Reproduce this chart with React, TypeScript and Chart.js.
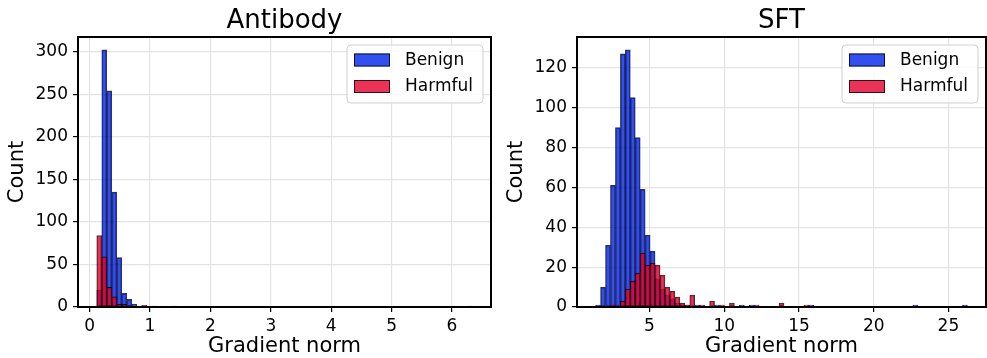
import React, { useEffect, useRef } from "react";
import { Chart, registerables } from "chart.js";

Chart.register(...registerables);

const FONT = "'DejaVu Sans', 'Liberation Sans', sans-serif";

// ---------- DATA ----------
const seriesLabels = ["Benign", "Harmful"];

// Antibody: 75 bins over the range of gradient norms
const antibodyRange = [0.119, 6.335];
const antibodyBenign = [
  20, 302, 254, 135, 58, 16, 9, 3, 1, 1, 0, 1, 0, 0, 0,
  1, 0, 0, 0, 0, 0, 0, 0, 0, 0, 0, 0, 0, 0, 0,
  0, 0, 0, 0, 0, 0, 0, 0, 0, 0, 0, 0, 0, 0, 0,
  0, 0, 0, 0, 0, 0, 0, 0, 0, 0, 0, 0, 0, 0, 0,
  0, 0, 0, 0, 0, 0, 0, 0, 0, 0, 0, 0, 0, 0, 1,
];
const antibodyHarmful = [
  84, 59, 23, 12, 3, 3, 1, 0, 0, 2, 0, 0, 0, 0, 0,
  0, 0, 0, 0, 0, 0, 0, 0, 0, 0, 0, 0, 0, 0, 0,
  0, 0, 0, 0, 0, 0, 0, 0, 0, 0, 0, 0, 0, 0, 0,
  0, 0, 0, 0, 0, 0, 0, 0, 0, 0, 0, 0, 0, 0, 0,
  0, 0, 0, 0, 0, 0, 0, 0, 0, 0, 0, 0, 0, 0, 0,
];
const antibodyXTicks = [0, 1, 2, 3, 4, 5, 6];
const antibodyYTicks = [0, 50, 100, 150, 200, 250, 300];

// SFT: 75 bins over the range of gradient norms
const sftRange = [1.394, 26.27];
const sftBenign = [
  1, 10, 31, 61, 90, 127, 129, 105, 85, 59, 36, 28, 14, 9, 6,
  4, 2, 1, 1, 0, 1, 0, 0, 0, 1, 0, 0, 0, 0, 1,
  0, 1, 0, 0, 0, 0, 0, 0, 0, 0, 0, 0, 0, 1, 0,
  0, 0, 0, 0, 0, 0, 0, 0, 0, 0, 0, 0, 0, 0, 0,
  0, 0, 0, 0, 1, 0, 0, 0, 0, 0, 0, 0, 0, 0, 1,
];
const sftHarmful = [
  0, 0, 0, 1, 0, 3, 9, 13, 17, 27, 21, 22, 21, 16, 10,
  8, 5, 2, 1, 6, 0, 1, 0, 3, 0, 1, 0, 2, 0, 0,
  0, 0, 1, 0, 0, 0, 0, 2, 0, 0, 0, 0, 1, 0, 0,
  0, 0, 0, 0, 0, 0, 0, 0, 0, 0, 0, 0, 0, 0, 0,
  0, 0, 0, 0, 0, 0, 0, 0, 0, 0, 0, 0, 0, 0, 0,
];
const sftXTicks = [5, 10, 15, 20, 25];
const sftYTicks = [0, 20, 40, 60, 80, 100, 120];

// ---------- STYLE ----------
const BLUE = "rgba(0, 35, 235, 0.8)";
const RED = "rgba(230, 0, 45, 0.8)";
const EDGE = "rgba(0, 0, 0, 0.78)";
const GRID = "#e3e3e3";

function toBars(counts: number[], range: number[]) {
  const w = (range[1] - range[0]) / counts.length;
  const pts: { x: number; y: number }[] = [];
  counts.forEach((c, i) => {
    if (c > 0) pts.push({ x: range[0] + (i + 0.5) * w, y: c });
  });
  return pts;
}

const decoPlugin = {
  id: "panelDeco",
  afterDraw(chart: any, _args: any, opts: any) {
    const { ctx, chartArea: a } = chart;
    ctx.save();
    // title
    ctx.fillStyle = "#000";
    ctx.font = `26px ${FONT}`;
    ctx.textAlign = "center";
    ctx.textBaseline = "alphabetic";
    ctx.fillText(opts.title, (a.left + a.right) / 2, 27.5);

    // legend
    const bw = 136;
    const bh = 58;
    const bx = a.right - 8 - bw;
    const by = a.top + 8;
    ctx.beginPath();
    const r = 4;
    ctx.moveTo(bx + r, by);
    ctx.lineTo(bx + bw - r, by);
    ctx.quadraticCurveTo(bx + bw, by, bx + bw, by + r);
    ctx.lineTo(bx + bw, by + bh - r);
    ctx.quadraticCurveTo(bx + bw, by + bh, bx + bw - r, by + bh);
    ctx.lineTo(bx + r, by + bh);
    ctx.quadraticCurveTo(bx, by + bh, bx, by + bh - r);
    ctx.lineTo(bx, by + r);
    ctx.quadraticCurveTo(bx, by, bx + r, by);
    ctx.closePath();
    ctx.fillStyle = "rgba(255,255,255,0.8)";
    ctx.fill();
    ctx.strokeStyle = "#cfcfcf";
    ctx.lineWidth = 1;
    ctx.stroke();

    const entries = [
      { label: seriesLabels[0], color: BLUE, y: by + 8.5 },
      { label: seriesLabels[1], color: RED, y: by + 35 },
    ];
    ctx.font = `17px ${FONT}`;
    ctx.textAlign = "left";
    ctx.textBaseline = "middle";
    entries.forEach((e) => {
      ctx.fillStyle = "#fff";
      ctx.fillRect(bx + 7, e.y, 36, 13);
      ctx.fillStyle = e.color;
      ctx.fillRect(bx + 7, e.y, 36, 13);
      ctx.strokeStyle = EDGE;
      ctx.lineWidth = 1;
      ctx.strokeRect(bx + 7.5, e.y + 0.5, 35, 12);
      ctx.fillStyle = "#000";
      ctx.fillText(e.label, bx + 58, e.y + 7);
    });

    // frame (spines)
    ctx.strokeStyle = "#000";
    ctx.lineWidth = 2;
    ctx.strokeRect(a.left, a.top, a.right - a.left, a.bottom - a.top);
    ctx.restore();
  },
};

type PanelProps = {
  title: string;
  range: number[];
  benign: number[];
  harmful: number[];
  xTicks: number[];
  yTicks: number[];
  width: number;
  left: number;
  yAxisWidth: number;
  padRight: number;
  yTitlePad: number;
};

function Panel(p: PanelProps) {
  const ref = useRef<HTMLCanvasElement | null>(null);
  useEffect(() => {
    if (!ref.current) return;
    const span = p.range[1] - p.range[0];
    const xmin = p.range[0] - 0.05 * span;
    const xmax = p.range[1] + 0.05 * span;
    const ymax = Math.max(...p.benign, ...p.harmful) * 1.05;
    const tickFont = { size: 17, family: FONT };
    const titleFont = { size: 21, family: FONT, lineHeight: 1 };
    const chart = new Chart(ref.current, {
      type: "bar",
      data: {
        datasets: [
          {
            label: seriesLabels[0],
            data: toBars(p.benign, p.range) as any,
            backgroundColor: BLUE,
            borderColor: EDGE,
            borderWidth: 1,
            borderSkipped: false,
            barPercentage: 1,
            categoryPercentage: 1,
            grouped: false,
            order: 2,
          } as any,
          {
            label: seriesLabels[1],
            data: toBars(p.harmful, p.range) as any,
            backgroundColor: RED,
            borderColor: EDGE,
            borderWidth: 1,
            borderSkipped: false,
            barPercentage: 1,
            categoryPercentage: 1,
            grouped: false,
            order: 1,
          } as any,
        ],
      },
      options: {
        responsive: false,
        animation: false,
        devicePixelRatio: 1,
        layout: { padding: { left: 0, top: 37, right: p.padRight, bottom: 0 } },
        plugins: {
          legend: { display: false },
          tooltip: { enabled: false },
          title: { display: false },
          panelDeco: { title: p.title },
        } as any,
        scales: {
          x: {
            type: "linear",
            min: xmin,
            max: xmax,
            offset: false,
            afterBuildTicks: (s: any) => {
              s.ticks = p.xTicks.map((v) => ({ value: v }));
            },
            afterFit: (s: any) => {
              s.height = 51;
              s.paddingLeft = 0;
              s.paddingRight = 0;
            },
            ticks: { font: tickFont, color: "#000", padding: 4, maxRotation: 0, autoSkip: false },
            grid: { offset: false, color: GRID, lineWidth: 1.2, tickColor: "#000", tickLength: 5, tickWidth: 1.2 },
            border: { display: false },
            title: { display: true, text: "Gradient norm", font: titleFont, color: "#000", padding: { top: 0, bottom: 1 } },
          } as any,
          y: {
            type: "linear",
            min: 0,
            max: ymax,
            afterBuildTicks: (s: any) => {
              s.ticks = p.yTicks.map((v) => ({ value: v }));
            },
            afterFit: (s: any) => {
              s.width = p.yAxisWidth;
              s.paddingTop = 0;
              s.paddingBottom = 0;
            },
            ticks: { font: tickFont, color: "#000", padding: 5 },
            grid: { color: GRID, lineWidth: 1.2, tickColor: "#000", tickLength: 5, tickWidth: 1.2 },
            border: { display: false },
            title: { display: true, text: "Count", font: titleFont, color: "#000", padding: { top: p.yTitlePad, bottom: 0 } },
          } as any,
        },
      },
      plugins: [decoPlugin as any],
    });
    return () => chart.destroy();
  }, []);
  return (
    <canvas
      ref={ref}
      width={p.width}
      height={358}
      style={{ position: "absolute", left: p.left, top: 0, width: p.width, height: 358 }}
    />
  );
}

export default function App() {
  return (
    <div style={{ position: "absolute", left: 0, top: 0, width: 987, height: 358, background: "#fff", fontFamily: FONT }}>
      <Panel
        title="Antibody"
        range={antibodyRange}
        benign={antibodyBenign}
        harmful={antibodyHarmful}
        xTicks={antibodyXTicks}
        yTicks={antibodyYTicks}
        width={495}
        left={0}
        yAxisWidth={78}
        padRight={4}
        yTitlePad={7}
      />
      <Panel
        title="SFT"
        range={sftRange}
        benign={sftBenign}
        harmful={sftHarmful}
        xTicks={sftXTicks}
        yTicks={sftYTicks}
        width={492}
        left={495}
        yAxisWidth={82}
        padRight={1}
        yTitlePad={11.5}
      />
    </div>
  );
}
